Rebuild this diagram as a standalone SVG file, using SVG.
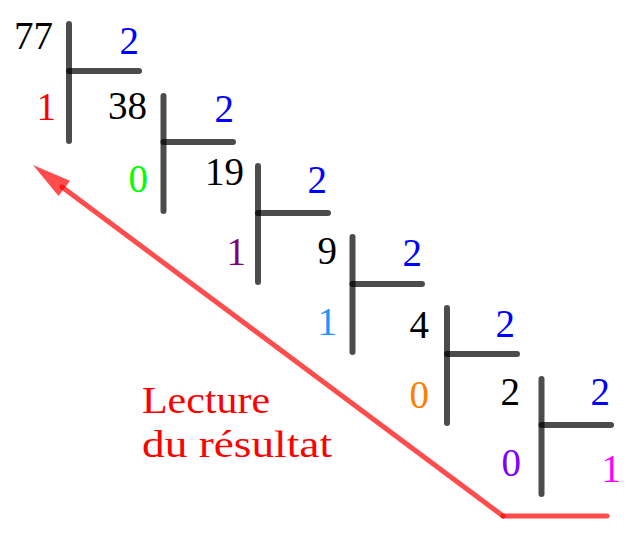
<svg xmlns="http://www.w3.org/2000/svg" width="636" height="549" viewBox="0 0 636 549">
<rect width="636" height="549" fill="#fff"/>
<g id="step1">
  <g stroke="#000" stroke-opacity="0.7" stroke-width="6" stroke-linecap="round">
    <line x1="69" y1="24" x2="69" y2="141"/>
    <line x1="69" y1="71" x2="139" y2="71"/>
  </g>
  <text x="53" y="49" font-size="39" font-family="Times New Roman, serif" text-anchor="end" fill="#000">77</text>
  <text x="139" y="54" font-size="39" font-family="Times New Roman, serif" text-anchor="end" fill="#0000ff">2</text>
  <text x="56" y="120" font-size="39" font-family="Times New Roman, serif" text-anchor="end" fill="#ff0000">1</text>
</g>
<g id="step2">
  <g stroke="#000" stroke-opacity="0.7" stroke-width="6" stroke-linecap="round">
    <line x1="163.5" y1="96" x2="163.5" y2="211"/>
    <line x1="163.5" y1="142" x2="233" y2="142"/>
  </g>
  <text x="147" y="119" font-size="39" font-family="Times New Roman, serif" text-anchor="end" fill="#000">38</text>
  <text x="234" y="122" font-size="39" font-family="Times New Roman, serif" text-anchor="end" fill="#0000ff">2</text>
  <text x="148" y="192" font-size="39" font-family="Times New Roman, serif" text-anchor="end" fill="#00ff00">0</text>
</g>
<g id="step3">
  <g stroke="#000" stroke-opacity="0.7" stroke-width="6" stroke-linecap="round">
    <line x1="258" y1="166" x2="258" y2="282"/>
    <line x1="258" y1="213" x2="328" y2="213"/>
  </g>
  <text x="244" y="185" font-size="39" font-family="Times New Roman, serif" text-anchor="end" fill="#000">19</text>
  <text x="327" y="193" font-size="39" font-family="Times New Roman, serif" text-anchor="end" fill="#0000ff">2</text>
  <text x="246" y="265" font-size="39" font-family="Times New Roman, serif" text-anchor="end" fill="#800080">1</text>
</g>
<g id="step4">
  <g stroke="#000" stroke-opacity="0.7" stroke-width="6" stroke-linecap="round">
    <line x1="352.5" y1="237" x2="352.5" y2="352"/>
    <line x1="352.5" y1="284" x2="422" y2="284"/>
  </g>
  <text x="337" y="264" font-size="39" font-family="Times New Roman, serif" text-anchor="end" fill="#000">9</text>
  <text x="422" y="266" font-size="39" font-family="Times New Roman, serif" text-anchor="end" fill="#0000ff">2</text>
  <text x="337" y="335" font-size="39" font-family="Times New Roman, serif" text-anchor="end" fill="#1e96ff">1</text>
</g>
<g id="step5">
  <g stroke="#000" stroke-opacity="0.7" stroke-width="6" stroke-linecap="round">
    <line x1="447" y1="308" x2="447" y2="423"/>
    <line x1="447" y1="354" x2="517" y2="354"/>
  </g>
  <text x="429" y="338" font-size="39" font-family="Times New Roman, serif" text-anchor="end" fill="#000">4</text>
  <text x="515" y="337" font-size="39" font-family="Times New Roman, serif" text-anchor="end" fill="#0000ff">2</text>
  <text x="429" y="408" font-size="39" font-family="Times New Roman, serif" text-anchor="end" fill="#ff8000">0</text>
</g>
<g id="step6">
  <g stroke="#000" stroke-opacity="0.7" stroke-width="6" stroke-linecap="round">
    <line x1="541.5" y1="379" x2="541.5" y2="494"/>
    <line x1="541.5" y1="425" x2="611" y2="425"/>
  </g>
  <text x="520" y="405" font-size="39" font-family="Times New Roman, serif" text-anchor="end" fill="#000">2</text>
  <text x="610" y="405" font-size="39" font-family="Times New Roman, serif" text-anchor="end" fill="#0000ff">2</text>
  <text x="521" y="476" font-size="39" font-family="Times New Roman, serif" text-anchor="end" fill="#8000ff">0</text>
  <text x="621" y="482" font-size="39" font-family="Times New Roman, serif" text-anchor="end" fill="#ff00ff">1</text>
</g>

<g id="connectors" stroke="#ff0000" stroke-opacity="0.7" stroke-width="5" stroke-linecap="round">
  <line x1="503" y1="516" x2="607" y2="516"/>
  <line x1="503" y1="516" x2="62" y2="187"/>
  <polygon points="33,165 70,180.7 58.5,195.9" fill="#ff0000" fill-opacity="0.7" stroke="none"/>
</g>

<g id="label">
  <text x="142" y="413" font-size="38" font-family="Times New Roman, serif" fill="#ff0000" textLength="128" lengthAdjust="spacingAndGlyphs">Lecture</text>
  <text x="142" y="457" font-size="38" font-family="Times New Roman, serif" fill="#ff0000" textLength="190" lengthAdjust="spacingAndGlyphs">du résultat</text>
</g>
</svg>
